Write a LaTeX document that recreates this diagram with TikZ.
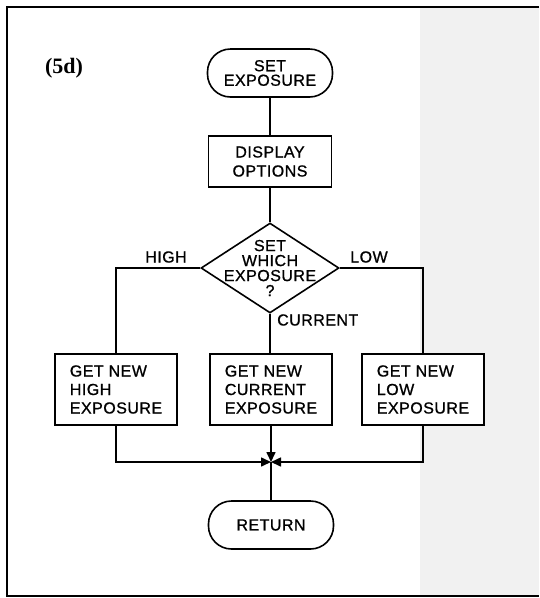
\documentclass[tikz,border=0pt]{standalone}
\usepackage{fontspec}
\usetikzlibrary{shapes.geometric,arrows.meta}
\newfontfamily\lett[LetterSpace=3,FakeBold=0.9]{Liberation Sans}
\newfontfamily\labser{Liberation Serif}
\definecolor{paper}{HTML}{F1F1F1}
\begin{document}
\begin{tikzpicture}[x=1pt,y=-1pt,
  txt/.style={font=\lett\fontsize{16}{18.5}\selectfont},
  base/.style={draw, line width=1.6pt, fill=white, inner sep=0pt, txt},
  proc/.style={base, rectangle, minimum width=122pt, minimum height=71pt, align=left},
  disp/.style={base, rectangle, minimum width=123pt, minimum height=51pt, align=center, font=\lett\fontsize{16}{19}\selectfont},
  term/.style={base, rectangle, rounded corners=23pt, minimum width=125pt, minimum height=48pt, align=center},
  decision/.style={base, diamond, minimum width=138pt, minimum height=90pt},
  link/.style={line width=1.6pt},
  tip/.style={link, -{Triangle[length=10pt,width=9pt]}},
  lbl/.style={txt, inner sep=0pt}]
  % background and frame
  \fill[white] (0,0) rectangle (539,598);
  \fill[paper] (420,7) rectangle (539,596);
  \draw[line width=1.8pt] (539,7) -- (7,7) -- (7,596) -- (539,596);
  \useasboundingbox (0,0) rectangle (539,598);

  \node[font=\labser\bfseries\fontsize{22}{24}\selectfont, inner sep=0pt] (tag) at (64,68) {(5d)};

  \node[term, font=\lett\fontsize{16}{14.5}\selectfont] (start) at (270,73) {SET\\EXPOSURE};
  \node[disp] (show) at (270,161.5) {DISPLAY\\OPTIONS};
  \node[decision] (dec) at (270,268) {};
  \node[txt, align=center, inner sep=0pt, font=\lett\fontsize{16}{15}\selectfont] (dectext) at (270,268) {SET\\WHICH\\EXPOSURE\\?};

  \node[proc] (hbox) at (116,389.5) {GET NEW\\HIGH\\EXPOSURE};
  \node[proc] (cbox) at (271,389.5) {GET NEW\\CURRENT\\EXPOSURE};
  \node[proc] (lbox) at (423,389.5) {GET NEW\\LOW\\EXPOSURE};

  \node[term] (ret) at (271,525) {RETURN};

  \node[lbl] (high) at (166,257) {HIGH};
  \node[lbl] (low) at (369,257) {LOW};
  \node[lbl, anchor=west] (cur) at (277,320) {CURRENT};

  \coordinate (J) at (271,462);

  \draw[link] (start) -- (show);
  \draw[link] (show) -- (dec);
  \draw[link] (dec.west) -| (hbox.north);
  \draw[link] (dec.east) -| (lbox.north);
  \draw[link] (dec.south) -- (dec.south |- cbox.north);
  \draw[tip] (hbox.south) |- (J);
  \draw[tip] (lbox.south) |- (J);
  \draw[tip] (cbox.south) -- (J);
  \draw[link] (J) -- (ret);
\end{tikzpicture}
\end{document}
